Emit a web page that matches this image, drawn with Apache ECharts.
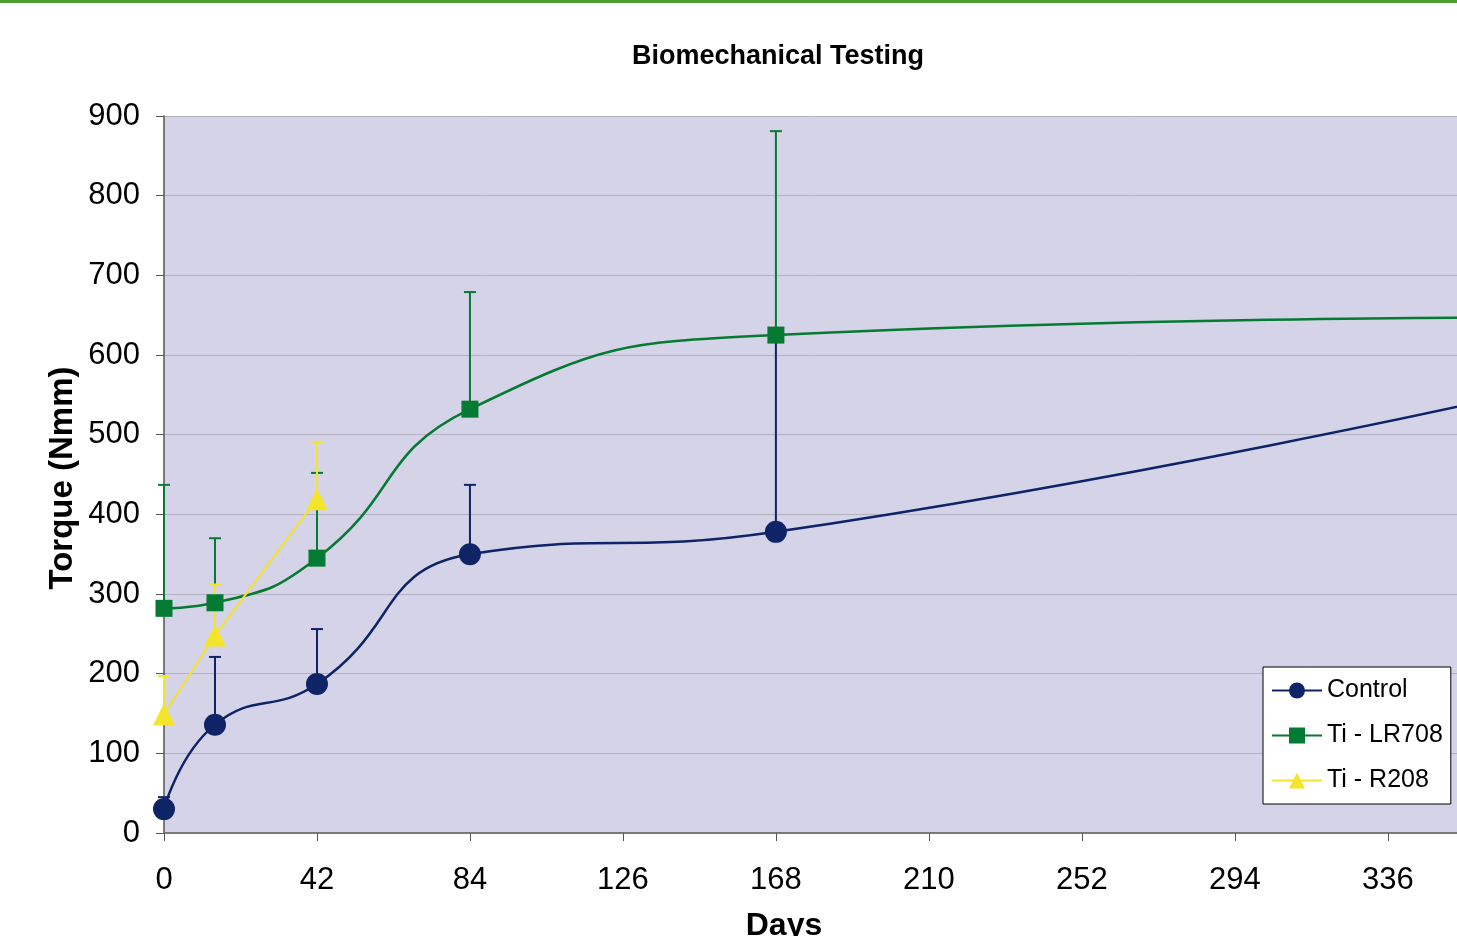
<!DOCTYPE html>
<html>
<head>
<meta charset="utf-8">
<title>Biomechanical Testing</title>
<script src="https://cdn.jsdelivr.net/npm/echarts@6/dist/echarts.min.js"></script>
<style>
  html, body { margin: 0; padding: 0; background: #fff; }
  #chart { width: 1457px; height: 936px; }
</style>
</head>
<body>
<div id="chart"></div>
<script>
// days of measurement
const days = [0, 14, 42, 84, 168, 365]
const r208Days = [0, 14, 42]

// mean torque (Nmm)
const controlMean = [30, 136, 187, 350, 378, 545]
const lr708Mean = [282, 289, 345, 532, 625, 647]
const r208Mean = [149, 248, 419]

// upper end of error bars
const controlUpper = [45, 221, 256, 437, 625, null]
const lr708Upper = [437, 370, 452, 679, 881, null]
const r208Upper = [197, 312, 491]

const xTicks = [0, 42, 84, 126, 168, 210, 252, 294, 336]
const yTicks = [0, 100, 200, 300, 400, 500, 600, 700, 800, 900]

const FONT = '"Liberation Sans", Arial, sans-serif'

function pairs(xs, ys) {
  return xs.map((x, i) => [x, ys[i]])
}

function errData(xs, mean, upper) {
  const out = []
  xs.forEach((x, i) => {
    if (upper[i] != null) out.push([x, mean[i], upper[i]])
  })
  return out
}

// vertical error bar with a cap at the top
function errorBars(name, color, data) {
  return {
    name: name + ' err',
    type: 'custom',
    z: 1,
    silent: true,
    data: data,
    renderItem(params, api) {
      const base = api.coord([api.value(0), api.value(1)])
      const top = api.coord([api.value(0), api.value(2)])
      const style = { stroke: color, lineWidth: 2 }
      return {
        type: 'group',
        children: [
          { type: 'line', shape: { x1: base[0], y1: base[1], x2: top[0], y2: top[1] }, style },
          { type: 'line', shape: { x1: top[0] - 6, y1: top[1], x2: top[0] + 6, y2: top[1] }, style }
        ]
      }
    }
  }
}

const chart = echarts.init(document.getElementById('chart'))

chart.setOption({
  animation: false,
  textStyle: { fontFamily: FONT },
  title: {
    text: 'Biomechanical Testing',
    left: 773,
    top: 38,
    textAlign: 'center',
    textStyle: { fontFamily: FONT, fontSize: 27, fontWeight: 'bold', color: '#000' }
  },
  graphic: [
    { type: 'rect', left: 0, top: 0, shape: { width: 1457, height: 3 }, style: { fill: '#4a9e2f' } },
    {
      type: 'text', x: 784, y: 926,
      style: { text: 'Days', font: 'bold 32px ' + FONT, fill: '#000', textAlign: 'center', textVerticalAlign: 'middle' }
    },
    {
      type: 'text', x: 63, y: 478, rotation: Math.PI / 2,
      style: { text: 'Torque (Nmm)', font: 'bold 33px ' + FONT, fill: '#000', textAlign: 'center', textVerticalAlign: 'middle' }
    }
  ],
  grid: {
    left: 164,
    right: 0,
    top: 116,
    bottom: 103,
    show: true,
    backgroundColor: '#d5d3e8',
    borderWidth: 0
  },
  legend: {
    orient: 'vertical',
    left: 1263,
    top: 667,
    width: 185,
    padding: [11, 8, 11, 8],
    itemWidth: 50,
    itemHeight: 20,
    itemGap: 20,
    backgroundColor: '#fff',
    borderColor: '#000',
    borderWidth: 1,
    textStyle: { fontFamily: FONT, fontSize: 25, color: '#000' },
    data: ['Control', 'Ti - LR708', 'Ti - R208']
  },
  xAxis: {
    type: 'value',
    min: 0,
    max: 355,
    interval: 42,
    axisLine: { show: true, lineStyle: { color: '#7a7a7a', width: 2 } },
    axisTick: { show: true, length: 8, lineStyle: { color: '#555', width: 1 } },
    axisLabel: {
      fontSize: 31, color: '#000', margin: 32, fontFamily: FONT,
      showMaxLabel: false,
      formatter: v => (xTicks.indexOf(v) >= 0 ? String(v) : '')
    },
    splitLine: { show: false }
  },
  yAxis: {
    type: 'value',
    min: 0,
    max: 900,
    interval: 100,
    axisLine: { show: true, lineStyle: { color: '#555', width: 1.5 } },
    axisTick: { show: true, length: 8, lineStyle: { color: '#555', width: 1 } },
    axisLabel: {
      fontSize: 31, color: '#000', margin: 24, fontFamily: FONT,
      formatter: v => (yTicks.indexOf(v) >= 0 ? String(v) : '')
    },
    splitLine: { show: true, lineStyle: { color: '#b3b1bf', width: 1 } }
  },
  series: [
    errorBars('Control', '#0f2466', errData(days, controlMean, controlUpper)),
    errorBars('Ti - LR708', '#057a32', errData(days, lr708Mean, lr708Upper)),
    errorBars('Ti - R208', '#f4e42a', errData(r208Days, r208Mean, r208Upper)),
    {
      name: 'Control',
      type: 'line',
      z: 3,
      clip: true,
      smooth: 0.5,
      symbol: 'circle',
      symbolSize: 22,
      color: '#0f2466',
      lineStyle: { color: '#0f2466', width: 2.5 },
      itemStyle: { color: '#0f2466' },
      data: pairs(days, controlMean)
    },
    {
      name: 'Ti - LR708',
      type: 'line',
      z: 3,
      clip: true,
      smooth: 0.5,
      symbol: 'rect',
      symbolSize: 17,
      color: '#057a32',
      lineStyle: { color: '#057a32', width: 2.5 },
      itemStyle: { color: '#057a32' },
      data: pairs(days, lr708Mean)
    },
    {
      name: 'Ti - R208',
      type: 'line',
      z: 4,
      symbol: 'triangle',
      symbolSize: 22,
      color: '#f4e42a',
      lineStyle: { color: '#f4e42a', width: 2 },
      itemStyle: { color: '#f4e42a' },
      data: pairs(r208Days, r208Mean)
    }
  ]
})
</script>
</body>
</html>
